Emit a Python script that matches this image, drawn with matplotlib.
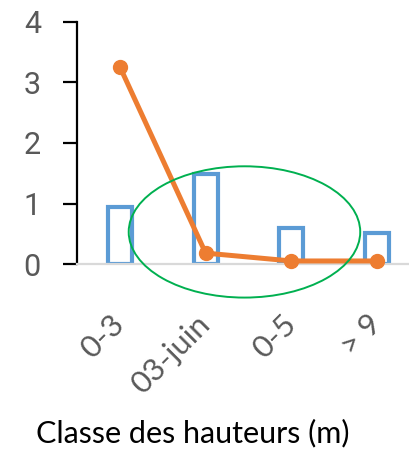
import matplotlib
matplotlib.use("Agg")
import matplotlib.pyplot as plt
from matplotlib.patches import Ellipse

# Data
categories = ["0-3", "03-juin", "0-5", "> 9"]
bar_values = [0.94, 1.49, 0.60, 0.51]
line_values = [3.26, 0.18, 0.05, 0.05]
y_ticks = [0, 1, 2, 3, 4]

BLUE = "#5B9BD5"
ORANGE = "#ED7D31"
GREEN = "#00B050"
GREY_TXT = "#595959"

fig = plt.figure(figsize=(4.09, 4.54), dpi=100)
ax = fig.add_axes([77 / 409, 1 - 264 / 454, 343 / 409, 242 / 454])

x = list(range(len(categories)))

ax.bar(x, bar_values, width=0.28, facecolor="white", edgecolor=BLUE,
       linewidth=3.0, zorder=2)
ax.axhline(0, color="#D9D9D9", linewidth=1.6, zorder=3, clip_on=False)
ax.plot(x, line_values, color=ORANGE, linewidth=3.6, marker="o",
        markersize=10, zorder=4, clip_on=False)

# Highlight around the low values
ax.add_patch(Ellipse((1.453, 0.53), 2.70, 2.17, fill=False, edgecolor=GREEN,
                     linewidth=1.4, zorder=5, clip_on=False))

ax.set_xlim(-0.5, 3.5)
ax.set_ylim(0, 4)

for side in ("top", "right", "bottom"):
    ax.spines[side].set_visible(False)
ax.spines["left"].set_color("black")
ax.spines["left"].set_linewidth(1.6)

ax.set_yticks(y_ticks)
ax.set_yticklabels([str(v) for v in y_ticks], fontsize=22, color=GREY_TXT,
                   fontfamily="Roboto")
ax.tick_params(axis="y", length=10, width=1.6, color="black", pad=16)

ax.set_xticks(x)
ax.set_xticklabels(categories, rotation=45, ha="right",
                   rotation_mode="anchor", va="center", fontsize=22.5,
                   color=GREY_TXT, fontfamily="Lato")
ax.tick_params(axis="x", length=0, pad=40)

fig.text(193 / 409, 1 - 433 / 454, "Classe des hauteurs (m)", ha="center",
         va="center", fontsize=22, color="black", fontfamily="Lato")

fig.savefig("out.png", dpi=100)
